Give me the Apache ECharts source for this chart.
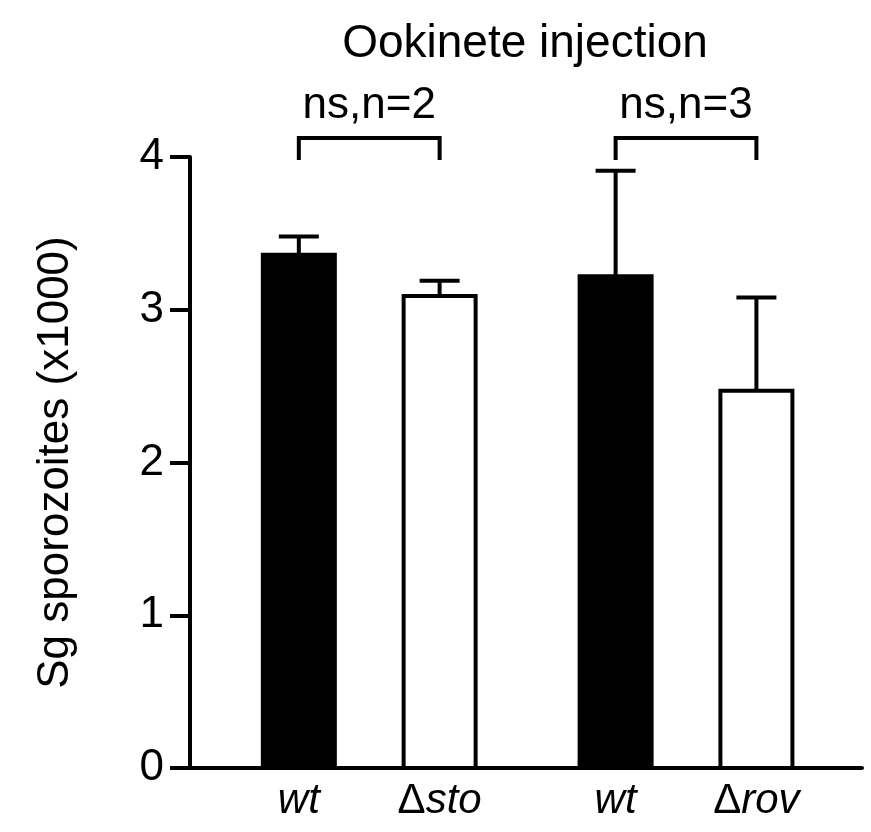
<!DOCTYPE html>
<html><head><meta charset="utf-8">
<script src="https://cdn.jsdelivr.net/npm/echarts@6/dist/echarts.min.js"></script>
<style>html,body{margin:0;padding:0;background:#fff}#c{width:871px;height:832px}</style>
</head><body><div id="c"></div>
<script>
const labels = ['wt', 'Δsto', 'wt', 'Δrov'];
const positions = [1, 2, 3.25, 4.25];
const means = [3.36, 3.09, 3.22, 2.47];
const errTop = [3.48, 3.19, 3.91, 3.08];
const fills = ['#000', '#fff', '#000', '#fff'];
const brackets = [{from: 0, to: 1, text: 'ns,n=2'}, {from: 2, to: 3, text: 'ns,n=3'}];

const chart = echarts.init(document.getElementById('c'));
const data = labels.map((l, i) => [positions[i], means[i], errTop[i], i]);
function fmtLabel(s) {
  return s.charAt(0) === 'Δ' ? '{d|Δ}{i|' + s.slice(1) + '}' : '{i|' + s + '}';
}
chart.setOption({
  animation: false,
  title: {text: 'Ookinete injection', left: 520, top: 16, textAlign: 'center',
    textStyle: {fontFamily: 'Liberation Sans', fontSize: 46, fontWeight: 'normal', color: '#000'}},
  grid: {left: 190, right: 9, top: 157, bottom: 64},
  xAxis: {type: 'value', min: 0.227, max: 5, axisLine: {lineStyle: {color: '#000', width: 4}},
    axisTick: {show: false}, axisLabel: {show: false}, splitLine: {show: false}},
  yAxis: {type: 'value', min: 0, max: 4, interval: 1,
    name: 'Sg sporozoites (x1000)', nameLocation: 'middle', nameGap: 112, nameRotate: 90,
    nameTextStyle: {fontFamily: 'Liberation Sans', fontSize: 44, color: '#000'},
    axisLine: {show: true, lineStyle: {color: '#000', width: 4}},
    axisTick: {show: true, inside: false, length: 20, lineStyle: {color: '#000', width: 4}},
    axisLabel: {fontFamily: 'Liberation Sans', fontSize: 44, color: '#000', margin: 26},
    splitLine: {show: false}},
  series: [{
    type: 'custom', data: data, clip: false,
    renderItem: function (params, api) {
      const x = api.value(0), i = api.value(3);
      const top = api.coord([x, api.value(1)]);
      const base = api.coord([x, 0]);
      const et = api.coord([x, api.value(2)]);
      const w = 72;
      return {type: 'group', children: [
        {type: 'line', shape: {x1: top[0], y1: top[1], x2: et[0], y2: et[1]}, style: {stroke: '#000', lineWidth: 4}},
        {type: 'line', shape: {x1: et[0] - 20, y1: et[1], x2: et[0] + 20, y2: et[1]}, style: {stroke: '#000', lineWidth: 4}},
        {type: 'rect', shape: {x: top[0] - w / 2, y: top[1], width: w, height: base[1] - top[1]},
          style: {fill: fills[i], stroke: '#000', lineWidth: 4}},
        {type: 'text', style: {x: base[0], y: base[1] + 12, text: fmtLabel(labels[i]), align: 'center',
          rich: {i: {fontStyle: 'italic', fontSize: 42, fontFamily: 'Liberation Sans', fill: '#000'},
                 d: {fontSize: 42, fontFamily: 'Liberation Sans', fill: '#000'}}}}
      ]};
    }
  }, {
    type: 'custom', data: brackets.map(b => [positions[b.from], positions[b.to]]), clip: false,
    renderItem: function (params, api) {
      const a = api.coord([api.value(0), 4]);
      const b = api.coord([api.value(1), 4]);
      const y = 138, yb = 160;
      return {type: 'group', children: [
        {type: 'polyline', shape: {points: [[a[0], yb], [a[0], y], [b[0], y], [b[0], yb]]},
          style: {stroke: '#000', lineWidth: 4, fill: null}},
        {type: 'text', style: {x: (a[0] + b[0]) / 2, y: 84, text: brackets[params.dataIndex].text,
          textAlign: 'center', font: '44px "Liberation Sans"', fill: '#000'}}
      ]};
    }
  }]
});
</script></body></html>
